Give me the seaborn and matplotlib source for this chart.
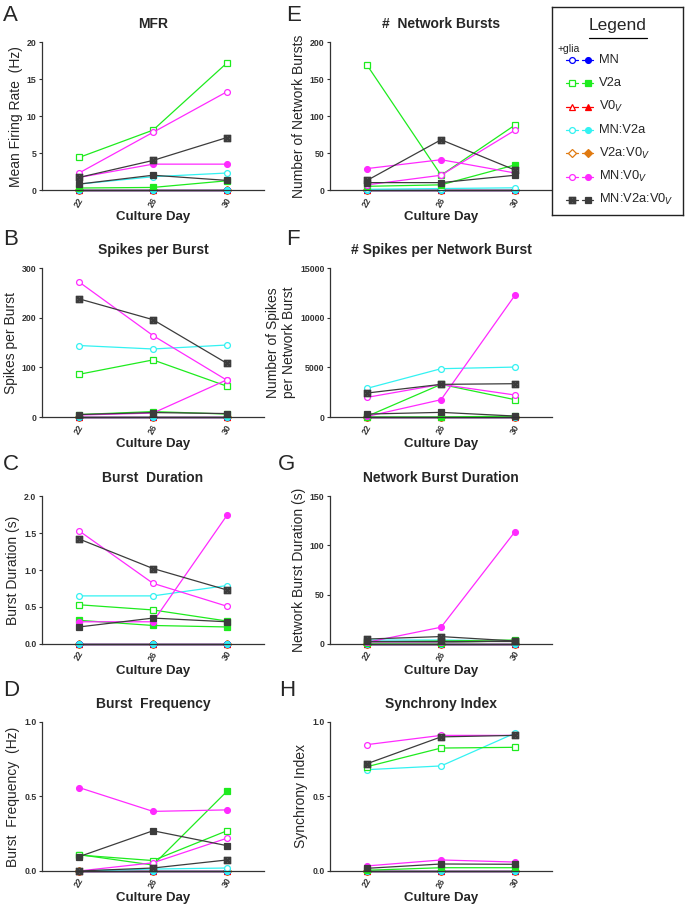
import matplotlib
matplotlib.use("Agg")
import matplotlib.pyplot as plt
import seaborn as sns

# ---------- data ----------
days = [22, 26, 30]
groups = ["V2a:V0v", "V0v", "MN", "MN:V2a", "V2a", "MN:V0v", "MN:V2a:V0v"]
legend_order = ["MN", "V2a", "V0v", "MN:V2a", "V2a:V0v", "MN:V0v", "MN:V2a:V0v"]
legend_labels = ["MN", "V2a", "V0$_V$", "MN:V2a", "V2a:V0$_V$", "MN:V0$_V$", "MN:V2a:V0$_V$"]

# key "+g" = with glia (open symbols), plain key = without glia (filled symbols)
mfr = {
    "MN": [0, 0, 0], "MN+g": [0, 0, 0],
    "V2a": [0.27, 0.35, 1.25], "V2a+g": [4.4, 8.1, 17.2],
    "V0v": [0, 0, 0], "V0v+g": [0, 0, 0],
    "MN:V2a": [0, 0, 0], "MN:V2a+g": [0.8, 1.8, 2.3],
    "V2a:V0v": [0, 0, 0], "V2a:V0v+g": [0, 0, 0],
    "MN:V0v": [1.7, 3.5, 3.5], "MN:V0v+g": [2.3, 7.8, 13.3],
    "MN:V2a:V0v": [0.8, 2.0, 1.3], "MN:V2a:V0v+g": [1.7, 4.0, 7.1],
}
net_bursts = {
    "MN": [0, 0, 0], "MN+g": [0, 0, 0],
    "V2a": [5, 7, 34], "V2a+g": [169, 20, 88],
    "V0v": [0, 0, 0], "V0v+g": [0, 0, 0],
    "MN:V2a": [0, 0, 0], "MN:V2a+g": [1, 2, 3],
    "V2a:V0v": [0, 0, 0], "V2a:V0v+g": [0, 0, 0],
    "MN:V0v": [29, 41, 23], "MN:V0v+g": [7, 20, 81],
    "MN:V2a:V0v": [10, 10, 20], "MN:V2a:V0v+g": [13, 68, 27],
}
spikes_burst = {
    "MN": [0, 0, 0], "MN+g": [0, 0, 0],
    "V2a": [5, 11, 6], "V2a+g": [86, 115, 62],
    "V0v": [0, 0, 0], "V0v+g": [0, 0, 0],
    "MN:V2a": [0, 0, 0], "MN:V2a+g": [144, 137, 145],
    "V2a:V0v": [0, 0, 0], "V2a:V0v+g": [0, 0, 0],
    "MN:V0v": [4, 8, 75], "MN:V0v+g": [272, 164, 74],
    "MN:V2a:V0v": [5, 9, 7], "MN:V2a:V0v+g": [238, 196, 108],
}
spikes_net = {
    "MN": [0, 0, 0], "MN+g": [0, 0, 0],
    "V2a": [0, 0, 100], "V2a+g": [70, 3290, 1745],
    "V0v": [0, 0, 0], "V0v+g": [0, 0, 0],
    "MN:V2a": [0, 0, 0], "MN:V2a+g": [2886, 4866, 5030],
    "V2a:V0v": [0, 0, 0], "V2a:V0v+g": [0, 0, 0],
    "MN:V0v": [60, 1745, 12280], "MN:V0v+g": [1980, 3290, 2215],
    "MN:V2a:V0v": [300, 470, 100], "MN:V2a:V0v+g": [2416, 3290, 3356],
}
burst_dur = {
    "MN": [0, 0, 0], "MN+g": [0, 0, 0],
    "V2a": [0.32, 0.25, 0.23], "V2a+g": [0.53, 0.46, 0.31],
    "V0v": [0, 0, 0], "V0v+g": [0, 0, 0],
    "MN:V2a": [0, 0, 0], "MN:V2a+g": [0.65, 0.65, 0.79],
    "V2a:V0v": [0, 0, 0], "V2a:V0v+g": [0, 0, 0],
    "MN:V0v": [0.30, 0.30, 1.74], "MN:V0v+g": [1.53, 0.82, 0.51],
    "MN:V2a:V0v": [0.23, 0.35, 0.30], "MN:V2a:V0v+g": [1.42, 1.02, 0.73],
}
net_dur = {
    "MN": [0, 0, 0], "MN+g": [0, 0, 0],
    "V2a": [1, 1.3, 3.4], "V2a+g": [2, 3, 4],
    "V0v": [0, 0, 0], "V0v+g": [0, 0, 0],
    "MN:V2a": [0, 0, 0], "MN:V2a+g": [4, 4, 3],
    "V2a:V0v": [0, 0, 0], "V2a:V0v+g": [0, 0, 0],
    "MN:V0v": [1.7, 17, 114], "MN:V0v+g": [2, 2, 3],
    "MN:V2a:V0v": [3, 3, 3], "MN:V2a:V0v+g": [5, 7.5, 3],
}
burst_freq = {
    "MN": [0, 0, 0], "MN+g": [0, 0, 0],
    "V2a": [0.11, 0.04, 0.535], "V2a+g": [0.107, 0.07, 0.27],
    "V0v": [0, 0, 0], "V0v+g": [0, 0, 0],
    "MN:V2a": [0, 0, 0], "MN:V2a+g": [0.0, 0.013, 0.02],
    "V2a:V0v": [0, 0, 0], "V2a:V0v+g": [0, 0, 0],
    "MN:V0v": [0.56, 0.40, 0.41], "MN:V0v+g": [0.0, 0.055, 0.22],
    "MN:V2a:V0v": [0.096, 0.27, 0.17], "MN:V2a:V0v+g": [0.0, 0.02, 0.074],
}
sync_idx = {
    "MN": [0, 0, 0], "MN+g": [0, 0, 0],
    "V2a": [0.005, 0.022, 0.022], "V2a+g": [0.70, 0.825, 0.83],
    "V0v": [0, 0, 0], "V0v+g": [0, 0, 0],
    "MN:V2a": [0, 0, 0], "MN:V2a+g": [0.68, 0.705, 0.925],
    "V2a:V0v": [0, 0, 0], "V2a:V0v+g": [0, 0, 0],
    "MN:V0v": [0.034, 0.074, 0.06], "MN:V0v+g": [0.848, 0.91, 0.91],
    "MN:V2a:V0v": [0.018, 0.047, 0.045], "MN:V2a:V0v+g": [0.72, 0.90, 0.91],
}

# ---------- styles ----------
colors = {"MN": "#0000FF", "V2a": "#1EEB1E", "V0v": "#FF0000", "MN:V2a": "#33F2F2",
          "V2a:V0v": "#E07A10", "MN:V0v": "#FF2AFF", "MN:V2a:V0v": "#3C3C3C"}
markers = {"MN": "o", "V2a": "s", "V0v": "^", "MN:V2a": "o",
           "V2a:V0v": "D", "MN:V0v": "o", "MN:V2a:V0v": "s"}


def marker_style(g, glia):
    # grey triple culture uses a crossed square
    if g == "MN:V2a:V0v":
        if glia:
            return r"$\boxtimes$", 4.6
        return "s", 3.8
    return markers[g], 4.2


sns.set_style("ticks")
plt.rcParams["font.family"] = ["Liberation Sans", "DejaVu Sans"]

fig = plt.figure(figsize=(6.85, 9.07), dpi=100)

L_left, W_left = 0.0613, 0.3854 - 0.0613
L_right, W_right = 0.4818, 0.806 - 0.4818
rows = [(0.7905, 0.163), (0.5402, 0.1643), (0.29, 0.1631), (0.0397, 0.1643)]


def draw(ax, vals, title, ylabel, yticks, yfmt):
    for g in groups:
        for glia in (False, True):
            key = g + ("+g" if glia else "")
            c = colors[g]
            mk, ms = marker_style(g, glia)
            sns.lineplot(x=days, y=vals[key], ax=ax, color=c, marker=mk,
                         markersize=ms, markerfacecolor="white" if glia else c,
                         markeredgecolor=c, markeredgewidth=0.9, linewidth=0.9,
                         errorbar=None, clip_on=False)
    ax.set_xlim(20, 32)
    ax.set_ylim(yticks[0], yticks[-1])
    ax.set_xticks(days)
    ax.set_xticklabels([str(d) for d in days], rotation=60, ha="center")
    ax.set_yticks(yticks)
    ax.set_yticklabels([yfmt.format(t) for t in yticks])
    ax.tick_params(labelsize=6.3, length=2.5, width=0.8, color="#333333", pad=1.5)
    for lab in ax.get_xticklabels() + ax.get_yticklabels():
        lab.set_fontweight("bold")
        lab.set_color("#333333")
    sns.despine(ax=ax)
    for s in ("left", "bottom"):
        ax.spines[s].set_color("#333333")
        ax.spines[s].set_linewidth(0.9)
    ax.set_title(title, fontsize=10, fontweight="bold", pad=10)
    ax.set_ylabel(ylabel, fontsize=10, labelpad=3)
    ax.set_xlabel("Culture Day", fontsize=9.5, fontweight="bold", labelpad=2)


panels = [
    (L_left, W_left, rows[0], mfr, "MFR", "Mean Firing Rate  (Hz)", [0, 5, 10, 15, 20], "{:g}", "A"),
    (L_left, W_left, rows[1], spikes_burst, "Spikes per Burst", "Spikes per Burst", [0, 100, 200, 300], "{:g}", "B"),
    (L_left, W_left, rows[2], burst_dur, "Burst  Duration", "Burst Duration (s)", [0, 0.5, 1.0, 1.5, 2.0], "{:.1f}", "C"),
    (L_left, W_left, rows[3], burst_freq, "Burst  Frequency", "Burst  Frequency  (Hz)", [0, 0.5, 1.0], "{:.1f}", "D"),
    (L_right, W_right, rows[0], net_bursts, "#  Network Bursts", "Number of Network Bursts", [0, 50, 100, 150, 200], "{:g}", "E"),
    (L_right, W_right, rows[1], spikes_net, "# Spikes per Network Burst", "Number of Spikes\nper Network Burst", [0, 5000, 10000, 15000], "{:g}", "F"),
    (L_right, W_right, rows[2], net_dur, "Network Burst Duration", "Network Burst Duration (s)", [0, 50, 100, 150], "{:g}", "G"),
    (L_right, W_right, rows[3], sync_idx, "Synchrony Index", "Synchrony Index", [0, 0.5, 1.0], "{:.1f}", "H"),
]

letter_pos = {"A": (0.004, 0.995), "B": (0.004, 0.748), "C": (0.004, 0.499), "D": (0.004, 0.250),
              "E": (0.418, 0.995), "F": (0.418, 0.748), "G": (0.405, 0.499), "H": (0.408, 0.250)}

for left, width, (bottom, height), vals, title, ylabel, yt, fmt, letter in panels:
    ax = fig.add_axes([left, bottom, width, height])
    draw(ax, vals, title, ylabel, yt, fmt)
    fig.text(*letter_pos[letter], letter, fontsize=16, va="top", ha="left")

# ---------- legend box ----------
lax = fig.add_axes([0.806, 0.763, 0.1915, 0.229])
lax.set_xlim(0, 1)
lax.set_ylim(0, 1)
lax.set_xticks([])
lax.set_yticks([])
for s in lax.spines.values():
    s.set_visible(True)
    s.set_color("#222222")
    s.set_linewidth(1.0)
lax.text(0.5, 0.912, "Legend", ha="center", va="center", fontsize=12.5)
lax.plot([0.28, 0.72], [0.85, 0.85], color="black", linewidth=0.9)
lax.text(0.04, 0.80, "+glia", ha="left", va="center", fontsize=7.5)
for i, (g, lab) in enumerate(zip(legend_order, legend_labels)):
    y = 0.745 - i * 0.112
    c = colors[g]
    for xc, glia in ((0.15, True), (0.27, False)):
        m, ms = marker_style(g, glia)
        lax.plot([xc - 0.045, xc + 0.045], [y, y], color=c, linewidth=0.9)
        lax.plot([xc], [y], marker=m, markersize=ms, color=c,
                 markerfacecolor="white" if glia else c, markeredgecolor=c,
                 markeredgewidth=0.9)
    lax.text(0.36, y, lab, ha="left", va="center", fontsize=9.3)

fig.savefig("out.png", dpi=100)
